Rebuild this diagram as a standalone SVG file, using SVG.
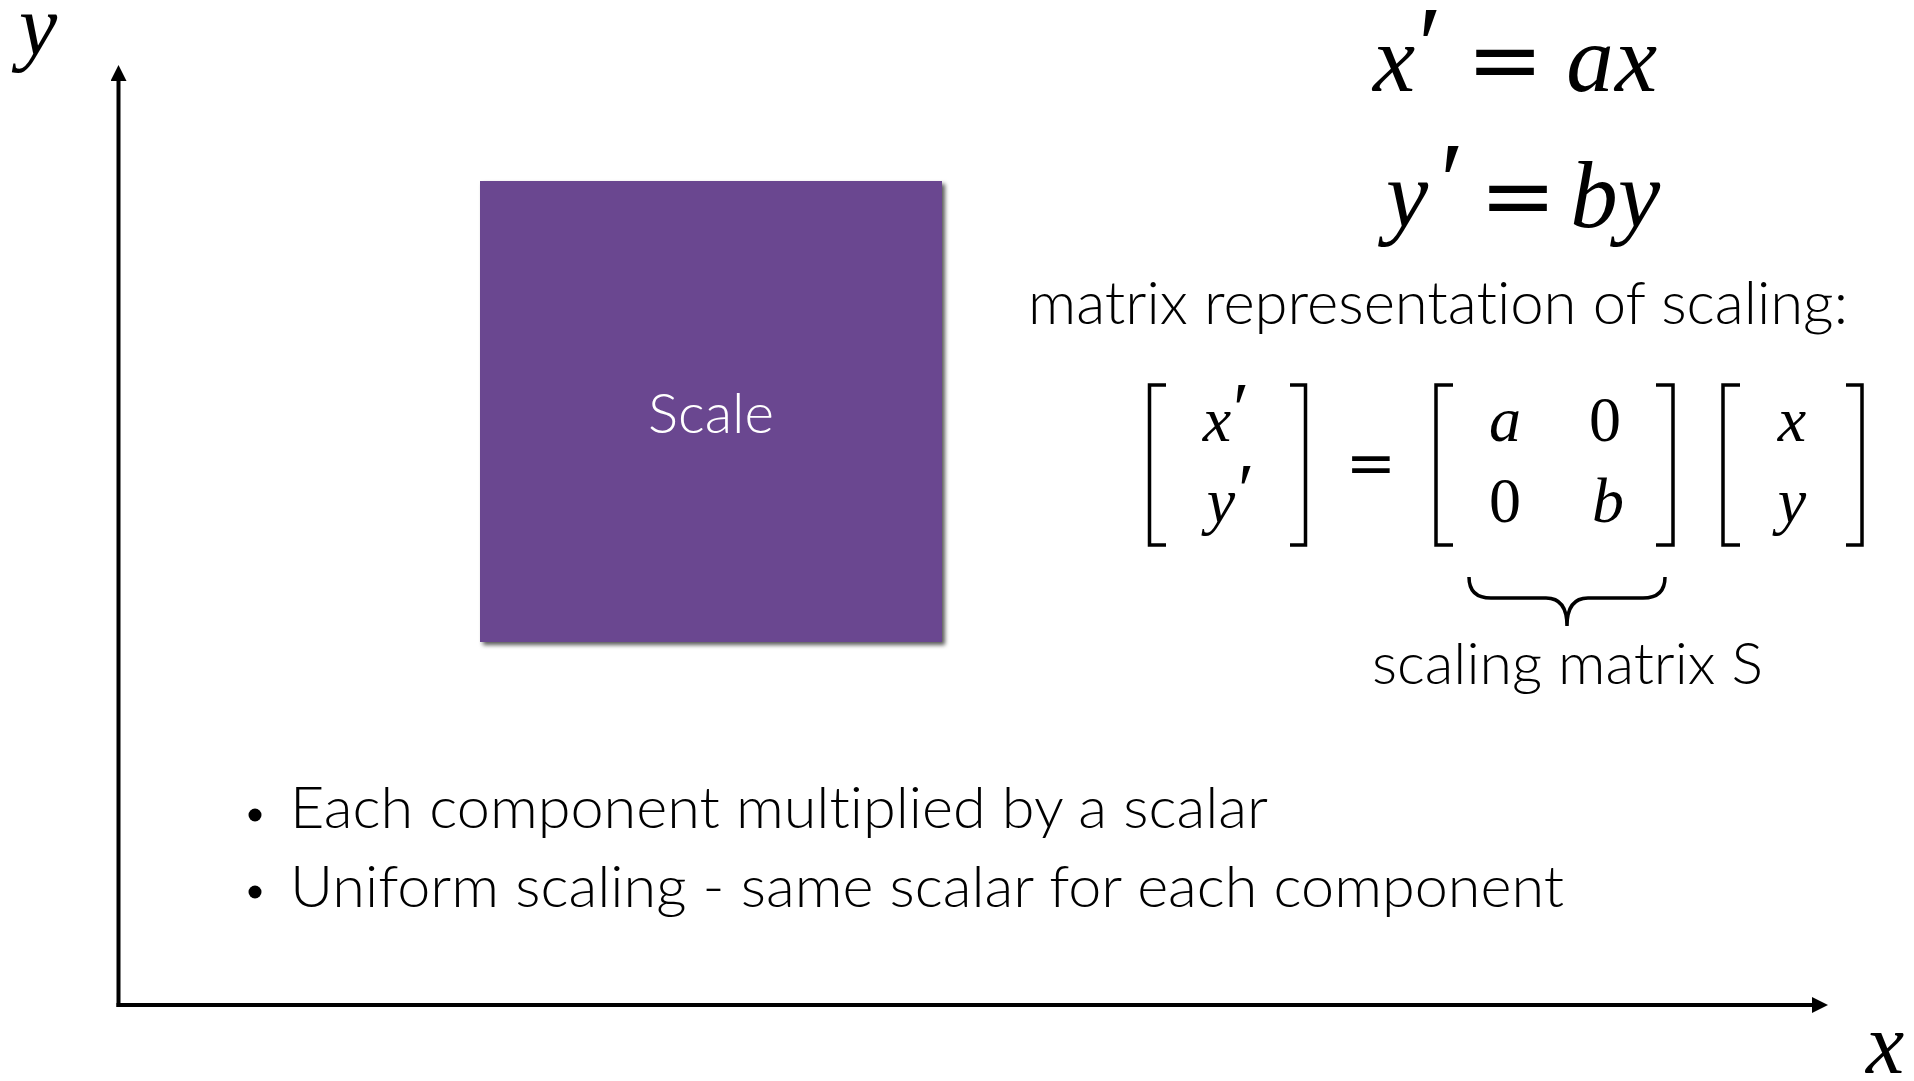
<svg xmlns="http://www.w3.org/2000/svg" width="1914" height="1081" viewBox="0 0 1914 1081">
  <style>
    .math { font-family: "Liberation Serif", "DejaVu Serif", serif; font-style: italic; fill: #000; }
    .up { font-family: "Liberation Serif", "DejaVu Serif", serif; font-style: normal; }
    .eq { font-family: "DejaVu Serif", "Liberation Serif", serif; font-style: normal; }
    .sans { font-family: "Lato", "Open Sans", "Liberation Sans", sans-serif; font-weight: 400; fill: #000; font-variant-ligatures: none; font-feature-settings: "liga" 0, "clig" 0; }
    .axis { stroke: #000; stroke-width: 4; fill: none; }
    .brk { stroke: #000; stroke-width: 3.5; fill: none; stroke-linecap: butt; }
  </style>
  <defs>
    <marker id="arrow" viewBox="0 0 16 16" refX="0" refY="8" markerWidth="16" markerHeight="16" markerUnits="userSpaceOnUse" orient="auto">
      <path d="M0,0 L16,8 L0,16 z" fill="#000"/>
    </marker>
    <filter id="shadow" x="-5%" y="-5%" width="115%" height="115%">
      <feDropShadow dx="3" dy="3" stdDeviation="2" flood-color="#000" flood-opacity="0.65"/>
    </filter>
  </defs>
  <rect width="1914" height="1081" fill="#fff"/>

  <g id="connectors">
    <line class="axis" x1="118.5" y1="1007" x2="118.5" y2="81" marker-end="url(#arrow)"/>
    <line class="axis" x1="116.5" y1="1005" x2="1812" y2="1005" marker-end="url(#arrow)"/>
  </g>

  <g id="axis-labels">
    <text class="math" x="38" y="54" font-size="86" text-anchor="middle">y</text>
    <text class="math" x="1885" y="1073" font-size="86" text-anchor="middle">x</text>
  </g>

  <g id="scale-box">
    <rect x="480" y="181" width="462" height="461" fill="#6b4690" filter="url(#shadow)"/>
    <text class="sans" x="711" y="433" font-size="56" text-anchor="middle" style="fill:#fff;font-weight:300" textLength="126" lengthAdjust="spacingAndGlyphs">Scale</text>
  </g>

  <g id="equations">
    <text class="math" font-size="95" text-anchor="middle"><tspan x="1394" y="91">x</tspan><tspan class="up" x="1430" y="82" font-size="110">′</tspan><tspan class="eq" x="1505" y="91" font-size="92">=</tspan><tspan x="1590" y="91">a</tspan><tspan x="1636" y="91">x</tspan></text>
    <text class="math" font-size="95" text-anchor="middle"><tspan x="1407" y="227">y</tspan><tspan class="up" x="1452" y="218" font-size="110">′</tspan><tspan class="eq" x="1518" y="227" font-size="92">=</tspan><tspan x="1594" y="227">b</tspan><tspan x="1639" y="227">y</tspan></text>
  </g>

  <g id="caption-matrix">
    <text class="sans" x="1028" y="324" font-size="60" textLength="820" lengthAdjust="spacingAndGlyphs" style="font-weight:300">matrix representation of scaling:</text>
  </g>

  <g id="matrix-equation">
    <path class="brk" d="M1166,385 H1149.5 V545 H1166"/>
    <path class="brk" d="M1290,385 H1305.5 V545 H1290"/>
    <path class="brk" d="M1453,385 H1436 V545 H1453"/>
    <path class="brk" d="M1656,385 H1673 V545 H1656"/>
    <path class="brk" d="M1740,385 H1723 V545 H1740"/>
    <path class="brk" d="M1846,385 H1862 V545 H1846"/>
    <text class="math" font-size="64" text-anchor="middle"><tspan x="1217" y="441">x</tspan><tspan class="up" x="1241" y="434" font-size="74">′</tspan></text>
    <text class="math" font-size="64" text-anchor="middle"><tspan x="1221" y="522">y</tspan><tspan class="up" x="1246" y="515" font-size="74">′</tspan></text>
    <text class="eq" x="1371" y="483" font-size="60" text-anchor="middle">=</text>
    <text class="math" font-size="64" text-anchor="middle"><tspan x="1505" y="441">a</tspan><tspan class="up" x="1605" y="441">0</tspan></text>
    <text class="math" font-size="64" text-anchor="middle"><tspan class="up" x="1505" y="522">0</tspan><tspan x="1608" y="522">b</tspan></text>
    <text class="math" font-size="64" text-anchor="middle"><tspan x="1792" y="441">x</tspan><tspan x="1792" y="522">y</tspan></text>
    <path class="brk" stroke-width="4" d="M1469,577 Q1469,598 1491,598 H1546 Q1567,598 1567,626 Q1567,598 1588,598 H1643 Q1665,598 1665,577"/>
  </g>

  <g id="caption-scaling">
    <text class="sans" x="1372" y="684" font-size="58" textLength="391" lengthAdjust="spacingAndGlyphs" style="font-weight:300">scaling matrix S</text>
  </g>

  <g id="bullets">
    <circle cx="255" cy="815" r="6.5" fill="#000"/>
    <text class="sans" x="290" y="828" font-size="57" textLength="978" lengthAdjust="spacingAndGlyphs" style="font-weight:300">Each component multiplied by a scalar</text>
    <circle cx="255" cy="892" r="6.5" fill="#000"/>
    <text class="sans" x="290" y="907" font-size="57" textLength="1274" lengthAdjust="spacingAndGlyphs" style="font-weight:300">Uniform scaling - same scalar for each component</text>
  </g>
</svg>
